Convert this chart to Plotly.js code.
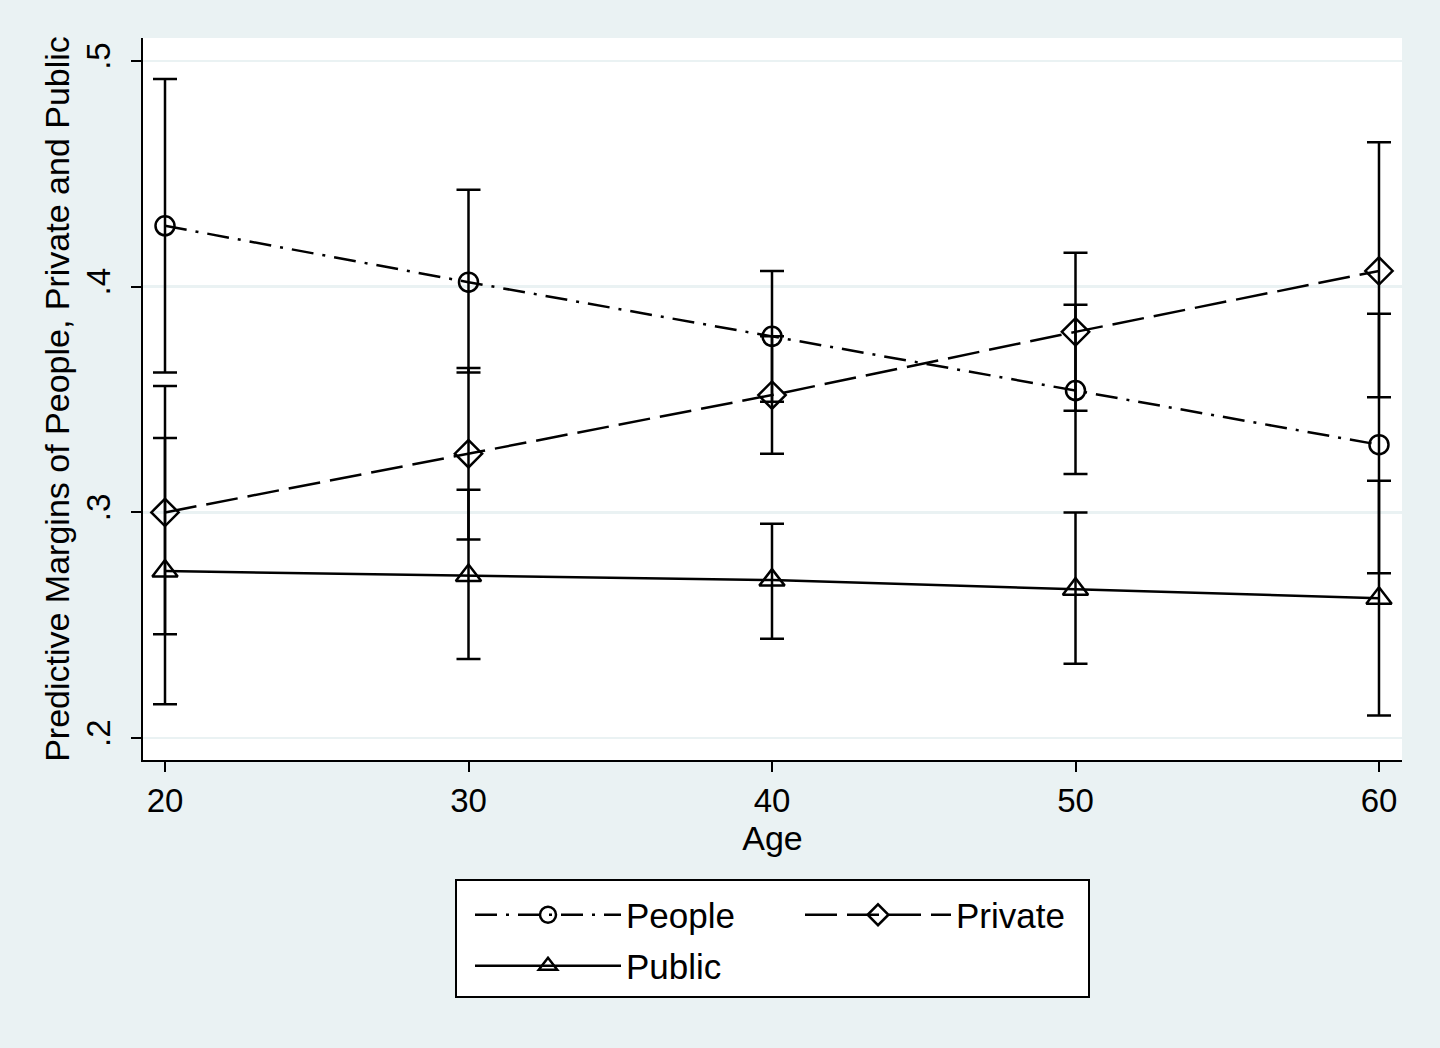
<!DOCTYPE html>
<html>
<head>
<meta charset="utf-8">
<script src="https://cdn.plot.ly/plotly-3.0.1.min.js"></script>
<style>
  html, body { margin: 0; padding: 0; background: #eaf2f3; }
  #chart { width: 1440px; height: 1048px; }
</style>
</head>
<body>
<div id="chart"></div>
<script>
// predictive margins by age
const ages = [20, 30, 40, 50, 60];

const people   = [0.427, 0.402, 0.378, 0.354, 0.330];
const peopleLo = [0.362, 0.362, 0.349, 0.317, 0.273];
const peopleHi = [0.492, 0.443, 0.407, 0.392, 0.388];

const privat    = [0.300, 0.326, 0.352, 0.380, 0.407];
const privateLo = [0.246, 0.288, 0.326, 0.345, 0.351];
const privateHi = [0.356, 0.364, 0.378, 0.415, 0.464];

const publik   = [0.274, 0.272, 0.270, 0.266, 0.262];
const publicLo = [0.215, 0.235, 0.244, 0.233, 0.210];
const publicHi = [0.333, 0.310, 0.295, 0.300, 0.314];

const yTicks = [0.2, 0.3, 0.4, 0.5];
const yTickText = ['.2', '.3', '.4', '.5'];
const xTicks = [20, 30, 40, 50, 60];

const FONT = 'Liberation Sans, Arial, Helvetica, sans-serif';
const BG = '#eaf2f3';

function errs(vals, lo, hi) {
    return {
        type: 'data',
        symmetric: false,
        array: hi.map((h, i) => h - vals[i]),
        arrayminus: lo.map((l, i) => vals[i] - l),
        color: '#000',
        thickness: 2.5,
        width: 12
    };
}

function series(name, vals, lo, hi, dash, symbol, size, legend) {
    return {
        x: ages,
        y: vals,
        name: name,
        type: 'scatter',
        mode: 'lines+markers',
        line: { color: '#000', width: 2.5, dash: dash },
        marker: { symbol: symbol, size: size, color: '#000', line: { color: '#000', width: 2.5 } },
        error_y: errs(vals, lo, hi),
        legend: legend
    };
}

const traces = [
    series('People', people, peopleLo, peopleHi, '22px,9px,3px,9px', 'circle-open', 19, 'legend'),
    series('Private', privat, privateLo, privateHi, '32px,10px', 'diamond-open', 21, 'legend'),
    series('Public', publik, publicLo, publicHi, 'solid', 'triangle-up-open', 22, 'legend2')
];

const legendCommon = {
    orientation: 'h',
    xref: 'container', yref: 'container',
    xanchor: 'left', yanchor: 'middle',
    bgcolor: 'rgba(0,0,0,0)',
    borderwidth: 0,
    font: { family: FONT, size: 35, color: '#000' },
    itemwidth: 146,
    itemclick: false,
    tracegroupgap: 0
};

const layout = {
    width: 1440,
    height: 1048,
    paper_bgcolor: BG,
    plot_bgcolor: '#ffffff',
    margin: { l: 143, r: 38, t: 38, b: 288 },
    font: { family: FONT, size: 33, color: '#000' },
    showlegend: true,
    xaxis: {
        range: [19.275, 60.758],
        tickvals: xTicks,
        ticks: 'outside', ticklen: 10, tickwidth: 2, tickcolor: '#000',
        showline: true, linecolor: '#000', linewidth: 2,
        showgrid: false, zeroline: false,
        tickfont: { family: FONT, size: 33, color: '#000' },
        title: { text: 'Age', font: { family: FONT, size: 34, color: '#000' }, standoff: 9 }
    },
    yaxis: {
        range: [0.1903, 0.5102],
        tickvals: yTicks,
        ticktext: yTickText,
        tickangle: -90,
        ticklabelstandoff: 8,
        ticks: 'outside', ticklen: 10, tickwidth: 2, tickcolor: '#000',
        showline: true, linecolor: '#000', linewidth: 2,
        showgrid: true, gridcolor: BG, gridwidth: 2.5,
        zeroline: false,
        tickfont: { family: FONT, size: 33, color: '#000' },
        title: { text: 'Predictive Margins of People, Private and Public', font: { family: FONT, size: 34, color: '#000' }, standoff: 0 }
    },
    legend: Object.assign({}, legendCommon, { x: 470 / 1440, y: 1 - 915 / 1048, entrywidth: 169 }),
    legend2: Object.assign({}, legendCommon, { x: 470 / 1440, y: 1 - 966 / 1048 }),
    shapes: [{
        type: 'rect', xref: 'paper', yref: 'paper',
        x0: (456 - 143) / 1259, x1: (1089 - 143) / 1259,
        y0: (760 - 880) / 722, y1: (760 - 997) / 722,
        line: { color: '#000', width: 2 },
        fillcolor: '#ffffff',
        layer: 'below'
    }]
};

Plotly.newPlot('chart', traces, layout, { displayModeBar: false, staticPlot: true });
</script>
</body>
</html>
